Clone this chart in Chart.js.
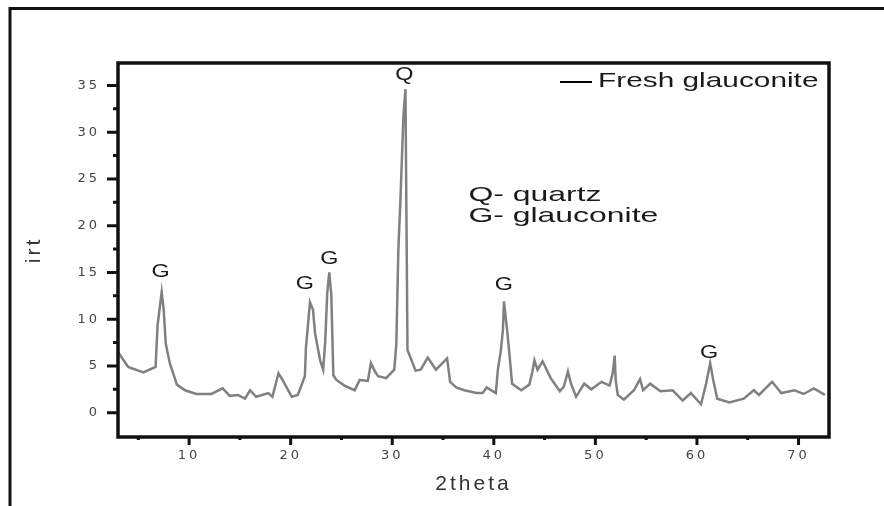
<!DOCTYPE html>
<html>
<head>
<meta charset="utf-8">
<script src="https://cdn.jsdelivr.net/npm/chart.js@4.4.0/dist/chart.umd.min.js"></script>
<style>
  html, body { margin: 0; padding: 0; background: #fff; }
  #wrap { width: 884px; height: 506px; }
</style>
</head>
<body>
<div id="wrap"><canvas id="xrdChart"></canvas></div>
<script>
// diffraction pattern
const twoTheta = [3.0, 4.0, 5.5, 6.7, 6.9, 7.3, 7.5, 7.7, 8.1, 8.8, 9.6, 10.7, 12.2, 13.3, 14.0, 14.8, 15.5, 16.0, 16.6, 17.8,
  18.2, 18.8, 19.2, 20.1, 20.7, 21.4, 21.5, 21.9, 22.2, 22.4, 22.9, 23.2, 23.4, 23.6, 23.8, 24.0, 24.2, 24.5, 25.3, 26.3,
  26.8, 27.6, 27.9, 28.3, 28.6, 29.4, 30.2, 30.4, 30.6, 30.8, 31.1, 31.3, 31.5, 32.3, 32.8, 33.5, 34.3, 35.4, 35.7, 36.3,
  37.1, 38.3, 38.9, 39.3, 40.2, 40.4, 40.7, 40.9, 41.0, 41.3, 41.5, 41.8, 42.7, 43.5, 43.8, 44.0, 44.3, 44.8, 45.6, 46.5,
  46.9, 47.3, 47.6, 48.1, 48.9, 49.6, 50.6, 51.4, 51.7, 51.9, 52.0, 52.2, 52.8, 53.8, 54.4, 54.7, 55.4, 56.4, 57.6, 58.6,
  59.4, 60.4, 60.9, 61.1, 61.3, 61.6, 62.0, 63.2, 64.6, 65.6, 66.1, 67.4, 68.3, 69.6, 70.5, 71.5, 72.6];
const intensity = [6.5, 4.9, 4.3, 4.9, 9.4, 12.9, 11.0, 7.4, 5.3, 3.0, 2.4, 2.0, 2.0, 2.6, 1.8, 1.9, 1.5, 2.4, 1.7, 2.1,
  1.7, 4.2, 3.5, 1.7, 1.9, 3.9, 6.9, 11.8, 11.0, 8.5, 5.6, 4.6, 7.6, 12.8, 15.0, 12.6, 4.0, 3.5, 2.9, 2.4,
  3.5, 3.4, 5.3, 4.4, 3.9, 3.7, 4.6, 7.3, 17.4, 22.6, 31.7, 34.6, 6.7, 4.5, 4.6, 5.9, 4.6, 5.8, 3.3, 2.7,
  2.4, 2.1, 2.1, 2.7, 2.1, 4.6, 6.7, 8.9, 11.9, 8.9, 6.7, 3.1, 2.4, 3.0, 4.4, 5.6, 4.6, 5.5, 3.7, 2.3,
  2.8, 4.4, 3.1, 1.7, 3.1, 2.5, 3.3, 2.9, 4.2, 6.1, 3.5, 1.9, 1.4, 2.4, 3.6, 2.4, 3.1, 2.3, 2.4, 1.3,
  2.1, 0.9, 3.1, 4.2, 5.3, 3.5, 1.5, 1.1, 1.5, 2.4, 1.9, 3.3, 2.1, 2.4, 2.0, 2.6, 1.9];
const seriesName = 'Fresh glauconite';

const xMajorTicks = [10, 20, 30, 40, 50, 60, 70];
const xMinorTicks = [5, 15, 25, 35, 45, 55, 65];
const yMajorTicks = [0, 5, 10, 15, 20, 25, 30, 35];
const yMinorTicks = [2.5, 7.5, 12.5, 17.5, 22.5, 27.5, 32.5];

// peak letters and key
const peakLetters = ['G', 'G', 'G', 'Q', 'G', 'G'];
const peakLetterX = [7.2, 21.4, 23.8, 31.2, 41.0, 61.2];
const peakLetterY = [15.0, 13.8, 16.4, 36.1, 13.7, 6.4];
const keyLines = ['Q- quartz', 'G- glauconite'];
const keyX = 37.5;
const keyY = [23.3, 21.0];

function wideText(ctx, text, x, y, align, stretch) {
  ctx.save();
  ctx.translate(x, y);
  ctx.scale(stretch, 1);
  ctx.textAlign = align;
  ctx.fillText(text, 0, 0);
  ctx.restore();
}

const decor = {
  id: 'decor',
  beforeDraw(chart) {
    chart.ctx.letterSpacing = '3px';
  },
  beforeDatasetsDraw(chart) {
    chart.ctx.letterSpacing = '0px';
  },
  afterDraw(chart) {
    const ctx = chart.ctx;
    const a = chart.chartArea;
    const xs = chart.scales.x, ys = chart.scales.y;
    ctx.save();
    ctx.letterSpacing = '0px';

    // outer frame
    ctx.strokeStyle = '#111';
    ctx.lineWidth = 3;
    ctx.beginPath();
    ctx.moveTo(10, chart.height);
    ctx.lineTo(10, 8.5);
    ctx.lineTo(chart.width, 8.5);
    ctx.stroke();

    // plot box
    ctx.lineWidth = 3.5;
    ctx.strokeRect(a.left, a.top, a.right - a.left, a.bottom - a.top);

    // tick marks
    ctx.lineWidth = 3;
    ctx.beginPath();
    xMajorTicks.forEach(v => { const p = xs.getPixelForValue(v); ctx.moveTo(p, a.bottom); ctx.lineTo(p, a.bottom + 8); });
    xMinorTicks.forEach(v => { const p = xs.getPixelForValue(v); ctx.moveTo(p, a.bottom); ctx.lineTo(p, a.bottom + 3); });
    yMajorTicks.forEach(v => { const p = ys.getPixelForValue(v); ctx.moveTo(a.left, p); ctx.lineTo(a.left - 11, p); });
    yMinorTicks.forEach(v => { const p = ys.getPixelForValue(v); ctx.moveTo(a.left, p); ctx.lineTo(a.left - 5, p); });
    ctx.stroke();

    // legend
    ctx.lineWidth = 2;
    ctx.strokeStyle = '#000';
    ctx.beginPath();
    ctx.moveTo(560, 82);
    ctx.lineTo(592, 82);
    ctx.stroke();
    ctx.fillStyle = '#1a1a1a';
    ctx.textBaseline = 'middle';
    ctx.font = '21px "Liberation Sans", Arial, sans-serif';
    wideText(ctx, chart.data.datasets[0].label, 598, 81, 'left', 1.42);

    // peak letters
    ctx.font = '18px "Liberation Sans", Arial, sans-serif';
    peakLetters.forEach((t, i) => {
      wideText(ctx, t, xs.getPixelForValue(peakLetterX[i]), ys.getPixelForValue(peakLetterY[i]), 'center', 1.3);
    });

    // key
    ctx.font = '21px "Liberation Sans", Arial, sans-serif';
    keyLines.forEach((t, i) => {
      wideText(ctx, t, xs.getPixelForValue(keyX), ys.getPixelForValue(keyY[i]), 'left', 1.52);
    });
    ctx.restore();
  }
};

const tickFont = { family: 'DejaVu Sans', size: 13 };
const titleFont = { family: 'Liberation Sans', size: 21 };

new Chart(document.getElementById('xrdChart'), {
  type: 'line',
  data: {
    datasets: [{
      label: seriesName,
      data: twoTheta.map((x, i) => ({ x: x, y: intensity[i] })),
      borderColor: '#808080',
      borderWidth: 2.5,
      pointRadius: 0,
      tension: 0,
      fill: false
    }]
  },
  options: {
    responsive: true,
    maintainAspectRatio: false,
    animation: false,
    layout: { padding: { top: 63, right: 55, left: 0, bottom: 0 } },
    plugins: {
      legend: { display: false },
      tooltip: { enabled: false }
    },
    scales: {
      x: {
        type: 'linear',
        min: 3,
        max: 73,
        afterBuildTicks: scale => { scale.ticks = xMajorTicks.map(v => ({ value: v })); },
        afterFit: scale => { scale.height = 69; },
        grid: { display: false, drawTicks: false },
        border: { display: false },
        ticks: { font: tickFont, color: '#444', padding: 11, maxRotation: 0, autoSkip: false },
        title: { display: true, text: '2theta', font: titleFont, color: '#333', padding: { top: 0, bottom: 9 } }
      },
      y: {
        type: 'linear',
        min: -2.6,
        max: 37.4,
        afterBuildTicks: scale => { scale.ticks = yMajorTicks.map(v => ({ value: v })); },
        afterFit: scale => { scale.width = 118; },
        grid: { display: false, drawTicks: false },
        border: { display: false },
        ticks: { font: tickFont, color: '#444', padding: 18, autoSkip: false },
        title: { display: true, text: 'irt', font: titleFont, color: '#333', padding: { top: 22, bottom: 0 } }
      }
    }
  },
  plugins: [decor]
});
</script>
</body>
</html>
